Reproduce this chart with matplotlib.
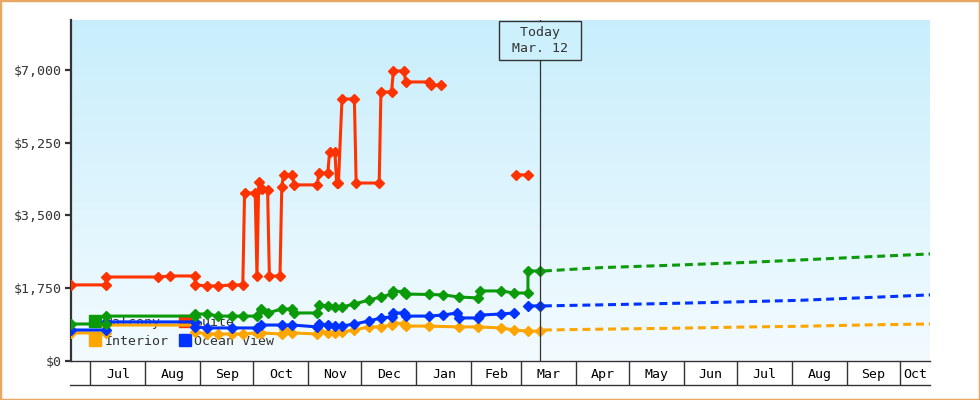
#!/usr/bin/env python3
"""Cabin price history with forecast: Balcony / Suite / Interior / Ocean View."""

import matplotlib
matplotlib.use("Agg")
import matplotlib.pyplot as plt
import numpy as np
import pandas as pd
from matplotlib.patches import Rectangle

# ── Data ───────────────────────────────────────────────────────────────────
SUITE_DATES = [
    "2014-06-20", "2014-07-10", "2014-07-10", "2014-08-08", "2014-08-15",
    "2014-08-29", "2014-08-29", "2014-09-05", "2014-09-11", "2014-09-19",
    "2014-09-25", "2014-09-26", "2014-10-02", "2014-10-03", "2014-10-04",
    "2014-10-06", "2014-10-09", "2014-10-10", "2014-10-16", "2014-10-17",
    "2014-10-18", "2014-10-23", "2014-10-24", "2014-11-06", "2014-11-07",
    "2014-11-12", "2014-11-13", "2014-11-16", "2014-11-17", "2014-11-18",
    "2014-11-20", "2014-11-27", "2014-11-28", "2014-12-11", "2014-12-12",
    "2014-12-18", "2014-12-19", "2014-12-25", "2014-12-26", "2015-01-08",
    "2015-01-09", "2015-01-15", "2015-02-01", "2015-02-26", "2015-03-05",
]
SUITE_PRICES = [
    1830, 1830, 2020, 2020, 2045,
    2045, 1830, 1805, 1805, 1830,
    1830, 4040, 4040, 2045, 4300,
    4140, 4110, 2045, 2045, 4190,
    4475, 4475, 4235, 4235, 4520,
    4520, 5025, 5025, 4280, 4280,
    6300, 6300, 4280, 4280, 6470,
    6470, 6975, 6975, 6710, 6710,
    6640, 6640, np.nan, 4475, 4475,
]

BALCONY_DATES = [
    "2014-06-20", "2014-07-10", "2014-07-10", "2014-08-29", "2014-08-29",
    "2014-09-05", "2014-09-11", "2014-09-19", "2014-09-25", "2014-10-03",
    "2014-10-05", "2014-10-09", "2014-10-17", "2014-10-23", "2014-10-24",
    "2014-11-06", "2014-11-07", "2014-11-12", "2014-11-16", "2014-11-20",
    "2014-11-27", "2014-12-05", "2014-12-12", "2014-12-18", "2014-12-19",
    "2014-12-25", "2014-12-26", "2015-01-08", "2015-01-16", "2015-01-25",
    "2015-02-05", "2015-02-06", "2015-02-18", "2015-02-25", "2015-03-05",
    "2015-03-05", "2015-03-12",
]
BALCONY_PRICES = [
    890, 890, 1080, 1080, 1130,
    1130, 1080, 1080, 1080, 1080,
    1250, 1155, 1250, 1250, 1155,
    1155, 1345, 1325, 1300, 1300,
    1370, 1465, 1540, 1610, 1685,
    1660, 1610, 1600, 1590, 1540,
    1515, 1685, 1685, 1635, 1635,
    2165, 2165,
]

OCEAN_DATES = [
    "2014-06-20", "2014-07-10", "2014-07-10", "2014-08-29", "2014-08-29",
    "2014-09-05", "2014-09-19", "2014-10-03", "2014-10-05", "2014-10-17",
    "2014-10-23", "2014-11-06", "2014-11-07", "2014-11-12", "2014-11-16",
    "2014-11-20", "2014-11-27", "2014-12-05", "2014-12-12", "2014-12-18",
    "2014-12-19", "2014-12-25", "2014-12-26", "2015-01-08", "2015-01-16",
    "2015-01-24", "2015-01-25", "2015-02-05", "2015-02-06", "2015-02-18",
    "2015-02-25", "2015-03-01", "2015-03-05", "2015-03-12",
]
OCEAN_PRICES = [
    745, 745, 940, 940, 820,
    795, 795, 795, 865, 865,
    865, 820, 890, 865, 840,
    840, 890, 960, 1035, 1060,
    1155, 1155, 1080, 1080, 1105,
    1155, 1035, 1035, 1105, 1130,
    1155, np.nan, 1325, 1325,
]

INTERIOR_DATES = [
    "2014-06-20", "2014-07-10", "2014-07-10", "2014-08-29", "2014-08-29",
    "2014-09-05", "2014-09-11", "2014-09-19", "2014-09-25", "2014-10-03",
    "2014-10-05", "2014-10-17", "2014-10-18", "2014-10-23", "2014-11-06",
    "2014-11-07", "2014-11-12", "2014-11-16", "2014-11-20", "2014-11-27",
    "2014-12-05", "2014-12-12", "2014-12-18", "2014-12-19", "2014-12-25",
    "2014-12-26", "2015-01-08", "2015-01-25", "2015-02-05", "2015-02-18",
    "2015-02-25", "2015-03-05", "2015-03-12",
]
INTERIOR_PRICES = [
    675, 675, 865, 865, 700,
    650, 650, 650, 650, 675,
    675, 650, 770, 675, 650,
    720, 675, 675, 700, 745,
    820, 820, 865, 915, 890,
    840, 840, 820, 820, 795,
    745, 720, 720,
]

# Forecast (dashed, no markers)
FORECAST_DATES = [
    "2015-03-14", "2015-04-15", "2015-05-30", "2015-07-09",
    "2015-08-06", "2015-09-15", "2015-10-18",
]
BALCONY_FORECAST = [2165, 2245, 2310, 2375, 2430, 2510, 2575]
OCEAN_FORECAST = [1325, 1350, 1390, 1430, 1460, 1530, 1590]
INTERIOR_FORECAST = [745, 765, 790, 820, 835, 870, 890]

TODAY = "2015-03-12"
TODAY_LABEL = " Today \n Mar. 12 "
X_START, X_END = "2014-06-20", "2015-10-18"
Y_TICKS = [0, 1750, 3500, 5250, 7000]

# ── Style ──────────────────────────────────────────────────────────────────
C_BALCONY = "#0a9a0a"
C_SUITE = "#ff3300"
C_INTERIOR = "#ffa500"
C_OCEAN = "#0033ff"
INK = "#333333"
FONT = "DejaVu Sans Mono"

plt.rcParams.update({
    "font.family": FONT,
    "font.size": 9.5,
    "text.color": INK,
})

LW = 2.2
MS = 5.3

fig = plt.figure(figsize=(9.8, 4.0), dpi=100)
ax = fig.add_axes([71 / 980, 39 / 400, 859 / 980, 341 / 400])

# gradient background, light blue at the top fading to near white
grad = np.linspace(0, 1, 256).reshape(-1, 1)
bg = np.array([200, 238, 252]) / 255 * (1 - grad)[..., None] + \
     np.array([243, 251, 255]) / 255 * grad[..., None]
ax.imshow(bg, extent=[0, 1, 0, 1], transform=ax.transAxes, origin="upper",
          aspect="auto", zorder=0)


def dt(values):
    return pd.to_datetime(values)


# ── History series ─────────────────────────────────────────────────────────
series = [
    (INTERIOR_DATES, INTERIOR_PRICES, C_INTERIOR, 3),
    (OCEAN_DATES, OCEAN_PRICES, C_OCEAN, 4),
    (BALCONY_DATES, BALCONY_PRICES, C_BALCONY, 5),
    (SUITE_DATES, SUITE_PRICES, C_SUITE, 6),
]
for dates, prices, color, z in series:
    ax.plot(dt(dates), prices, color=color, lw=LW, marker="D", ms=MS,
            mec=color, mfc=color, zorder=z)

for prices, color in [(INTERIOR_FORECAST, C_INTERIOR),
                      (OCEAN_FORECAST, C_OCEAN),
                      (BALCONY_FORECAST, C_BALCONY)]:
    ax.plot(dt(FORECAST_DATES), prices, color=color, lw=LW,
            linestyle=(0, (2.6, 1.6)), zorder=3)

# ── Today marker ───────────────────────────────────────────────────────────
today = pd.Timestamp(TODAY)
ax.axvline(today, color=INK, lw=0.9, zorder=7)
ax.text(today, 0.983, TODAY_LABEL, transform=ax.get_xaxis_transform(),
        ha="center", va="top", fontsize=9.5, linespacing=1.3, zorder=8,
        bbox=dict(boxstyle="square,pad=0.38", fc="#cdf0fd", ec=INK, lw=1.0))

# ── Legend (sits underneath the lines) ─────────────────────────────────────
def sq(color, label):
    return plt.Line2D([], [], marker="s", ls="none", ms=8.5, color=color,
                      label=label)


handles = [sq(C_BALCONY, "Balcony"), sq(C_INTERIOR, "Interior"),
           sq(C_SUITE, "Suite"), sq(C_OCEAN, "Ocean View")]
leg = ax.legend(handles=handles, ncol=2, loc="lower left",
                bbox_to_anchor=(0.016, 0.024), frameon=False,
                handlelength=0.8, handletextpad=0.3, columnspacing=0.85,
                labelspacing=0.45, borderaxespad=0, fontsize=9.5)
leg.set_zorder(2)
for t in leg.get_texts():
    t.set_color(INK)

# ── Axes ───────────────────────────────────────────────────────────────────
x0, x1 = pd.Timestamp(X_START), pd.Timestamp(X_END)
ax.set_xlim(x0, x1)
ax.set_ylim(0, 8200)

ax.set_yticks(Y_TICKS)
ax.set_yticklabels([f"${v:,}" for v in Y_TICKS])
ax.tick_params(axis="y", length=4, width=1.6, color=INK, pad=3,
               labelsize=9.5, labelcolor=INK)

month_starts = pd.date_range("2014-07-01", "2015-10-01", freq="MS")
ax.set_xticks(month_starts)
ax.tick_params(axis="x", which="major", length=17.3, width=1.0, color=INK,
               labelbottom=False)

# month labels centred on the visible part of each month
edges = [x0] + list(month_starts) + [x1]
label_pos, label_txt = [], []
for a, b in zip(edges[:-1], edges[1:]):
    if (b - a).days < 15:
        continue
    label_pos.append(a + (b - a) / 2)
    label_txt.append(a.strftime("%b") if a.day == 1 else b.strftime("%b"))
ax.set_xticks(label_pos, minor=True)
ax.set_xticklabels(label_txt, minor=True)
ax.tick_params(axis="x", which="minor", length=0, pad=5, labelsize=9.5,
               labelcolor="black")

# bottom rule of the month strip
ax.plot([-0.001, 1], [-24 / 341] * 2, transform=ax.transAxes, color=INK,
        lw=1.0, clip_on=False)

ax.spines["top"].set_visible(False)
ax.spines["right"].set_visible(False)
ax.spines["left"].set_linewidth(1.6)
ax.spines["left"].set_color(INK)
ax.spines["bottom"].set_linewidth(1.0)
ax.spines["bottom"].set_color(INK)

# outer border
fig.patches.append(Rectangle((0, 0), 1, 1, transform=fig.transFigure,
                             fill=False, edgecolor="#e6a863", lw=2.5))

fig.savefig("out.png", dpi=100, facecolor="white")
plt.close(fig)
